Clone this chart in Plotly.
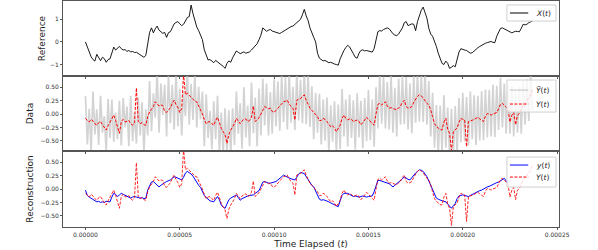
import plotly.graph_objects as go
from plotly.subplots import make_subplots

# ---------------- data: all series sampled every 1 microsecond, starting at t = 0 ----------------
DT_US = 1.0

# reference signal X(t)
X_V = [0.00, -0.22, -0.42, -0.66, -0.78, -0.85, -0.55, -0.72, -0.83, -0.68, -0.74, -0.9, -0.78, -0.75, -0.45,
       -0.23, -0.36, -0.3, -0.2, -0.3, -0.36, -0.34, -0.42, -0.38, -0.44, -0.42, -0.47, -0.46, -0.52, -0.58,
       -0.62, -0.68, -0.6, -0.1, 0.42, 0.62, 0.4, 0.58, 0.7, 0.52, 0.46, 0.38, 0.42, 0.2, 0.41, 0.45, 0.62,
       0.8, 0.86, 0.9, 0.8, 0.72, 0.78, 0.92, 1.08, 1.12, 1.63, 1.25, 0.9, 0.66, 0.5, 0.3, 0.1, -0.35, -0.6,
       -0.8, -0.78, -0.86, -0.92, -0.82, -0.88, -0.94, -1.02, -1.08, -1.17, -0.95, -0.84, -0.9, -0.7, -0.52,
       -0.4, -0.46, -0.52, -0.48, -0.44, -0.5, -0.47, -0.44, -0.36, -0.25, -0.15, -0.08, 0.1, 0.3, 0.62, 0.56,
       0.47, 0.52, 0.55, 0.48, 0.46, 0.44, 0.42, 0.37, 0.42, 0.48, 0.52, 0.58, 0.62, 0.68, 0.7, 0.78, 0.86,
       0.9, 1.0, 1.2, 1.44, 1.15, 0.95, 0.62, 0.36, 0.2, 0.0, -0.5, -0.72, -0.78, -0.84, -0.82, -0.88, -0.92,
       -0.9, -0.95, -0.98, -1.0, -1.03, -0.75, -0.52, -0.38, -0.25, -0.15, -0.22, -0.4, -0.52, -0.68, -0.72,
       -0.5, -0.38, -0.35, -0.4, -0.38, -0.4, -0.42, -0.45, -0.3, 0.1, 0.45, 0.5, 0.48, 0.55, 0.6, 0.62, 0.58,
       0.45, 0.36, 0.3, 0.28, 0.35, 0.48, 0.62, 0.85, 0.9, 0.72, 0.75, 0.8, 0.78, 0.5, 0.9, 1.2, 1.4, 1.54,
       1.3, 1.05, 0.6, 0.35, 0.25, 0.05, -0.2, -0.5, -0.74, -0.95, -1.0, -0.85, -0.95, -1.17, -1.12, -1.05,
       -1.1, -0.7, -0.45, -0.3, -0.34, -0.36, -0.38, -0.44, -0.5, -0.48, -0.4, -0.3, -0.26, -0.2, -0.14, -0.1,
       -0.06, -0.03, 0.0, 0.02, -0.02, -0.03, 0.25, 0.45, 0.6, 0.62, 0.58, 0.55, 0.5, 0.45, 0.4, 0.44, 0.47,
       0.46, 0.45, 0.6, 0.78, 0.75, 0.78, 0.85, 0.88, 0.93]

# noisy data Y~(t)
YN_V = [0.34, -0.57, 0.10, -0.70, 0.42, -0.38, 0.09, -0.58, 0.34, -0.35, -0.04, -0.70, 0.28, -0.45, 0.27,
        -0.52, 0.03, -0.47, 0.25, -0.59, 0.30, -0.25, 0.14, -0.60, 0.34, -0.51, 0.02, -0.55, 0.31, -0.40,
        0.22, -0.72, 0.09, -0.40, 0.62, -0.32, 0.39, -0.07, 0.78, -0.35, 0.57, -0.02, 0.55, -0.42, 0.73,
        -0.17, 0.55, -0.29, 0.76, -0.23, 0.48, -0.40, 0.42, -0.04, 0.84, -0.20, 0.56, -0.11, 0.74, -0.25,
        0.51, -0.10, 0.42, -0.60, 0.37, -0.45, 0.06, -0.66, 0.24, -0.47, 0.34, -0.71, 0.03, -0.75, 0.11,
        -0.75, 0.07, -0.75, 0.11, -0.58, 0.42, -0.37, 0.20, -0.65, 0.50, -0.44, 0.16, -0.60, 0.59, -0.36,
        0.31, -0.60, 0.48, -0.40, 0.66, -0.21, 0.57, -0.40, 0.41, -0.37, 0.65, -0.23, 0.61, -0.31, 0.73,
        -0.15, 0.69, -0.29, 0.78, -0.16, 0.51, -0.30, 0.76, -0.12, 0.64, -0.17, 0.81, -0.19, 0.73, -0.24,
        0.52, -0.47, 0.40, -0.35, 0.38, -0.57, 0.27, -0.50, 0.31, -0.70, 0.16, -0.52, 0.24, -0.71, 0.18,
        -0.66, 0.47, -0.42, 0.27, -0.61, 0.36, -0.45, 0.26, -0.67, 0.39, -0.44, 0.25, -0.64, 0.30, -0.51,
        0.45, -0.49, 0.27, -0.61, 0.50, -0.27, 0.75, -0.18, 0.70, -0.27, 0.60, -0.29, 0.72, -0.35, 0.49,
        -0.42, 0.66, -0.20, 0.72, -0.19, 0.69, -0.29, 0.57, -0.36, 0.72, -0.16, 0.78, -0.14, 0.74, -0.15,
        0.79, -0.20, 0.62, -0.42, 0.40, -0.63, 0.17, -0.77, 0.16, -0.70, 0.35, -0.63, 0.12, -0.76, 0.10,
        -0.78, 0.15, -0.76, 0.30, -0.53, 0.40, -0.51, 0.32, -0.59, 0.42, -0.47, 0.35, -0.58, 0.34, -0.49,
        0.43, -0.49, 0.46, -0.44, 0.45, -0.42, 0.55, -0.43, 0.53, -0.30, 0.68, -0.25, 0.57, -0.37, 0.53,
        -0.37, 0.52, -0.42, 0.42, -0.35, 0.51, -0.37, 0.62, -0.20, 0.65, -0.13, 0.76, 0.06]

# observation Y(t)
Y_V = [-0.08, -0.12, -0.15, -0.1, -0.13, -0.18, -0.21, -0.16, -0.14, -0.2, -0.24, -0.3, -0.22, -0.15, -0.08,
       -0.02, -0.12, -0.22, -0.36, -0.14, -0.1, -0.15, -0.14, -0.12, -0.18, -0.21, -0.16, 0.49, -0.14, -0.18,
       -0.16, -0.2, -0.21, -0.05, 0.04, 0.1, 0.14, 0.23, 0.18, 0.15, 0.17, 0.16, 0.05, 0.03, 0.08, 0.11, 0.2,
       0.26, 0.18, 0.12, 0.03, 0.1, 0.75, 0.36, 0.39, 0.35, 0.31, 0.27, 0.24, 0.23, 0.16, 0.1, 0.0, -0.1,
       -0.18, -0.15, -0.14, -0.18, -0.21, -0.12, -0.06, -0.16, -0.27, -0.33, -0.39, -0.55, -0.38, -0.3,
       -0.24, -0.18, -0.08, -0.12, -0.18, -0.13, -0.1, -0.09, -0.14, -0.12, -0.06, 0.15, -0.14, -0.1, -0.07,
       0.0, 0.06, 0.14, 0.12, 0.1, 0.11, 0.05, 0.03, 0.07, 0.11, 0.14, 0.18, 0.23, 0.24, 0.26, 0.18, 0.14,
       0.11, -0.11, 0.26, 0.28, 0.29, 0.33, 0.36, 0.26, 0.18, 0.11, 0.07, 0.03, 0.0, -0.05, -0.12, -0.12,
       -0.08, -0.1, -0.14, -0.2, -0.24, -0.22, -0.26, -0.33, -0.27, -0.21, -0.08, -0.02, -0.08, -0.11, -0.09,
       -0.1, -0.14, -0.12, -0.11, -0.14, -0.2, -0.16, -0.1, -0.06, -0.1, -0.14, -0.18, -0.21, 0.0, 0.18, 0.2,
       0.17, 0.2, 0.23, 0.15, 0.11, 0.12, 0.1, 0.09, 0.08, 0.11, 0.15, 0.22, 0.26, 0.14, 0.11, 0.12, 0.14,
       0.22, 0.29, 0.33, 0.36, 0.34, 0.3, 0.24, 0.2, 0.17, 0.08, -0.05, -0.18, -0.23, -0.27, -0.29, -0.3,
       -0.15, -0.08, -0.28, -0.36, -0.68, -0.33, -0.3, -0.26, -0.15, -0.08, -0.1, -0.11, -0.61, -0.14, -0.13,
       -0.12, -0.1, -0.08, -0.06, -0.09, -0.12, -0.14, -0.04, 0.01, 0.0, -0.02, 0.0, 0.02, 0.03, 0.1, 0.18,
       0.2, 0.17, 0.13, 0.08, -0.15, -0.02, 0.03, -0.2, -0.02, 0.01, 0.08, 0.17, 0.2, 0.25, 0.32, 0.36, 0.46]

# reconstruction y(t)
R_V = [-0.02, -0.12, -0.15, -0.17, -0.2, -0.22, -0.24, -0.23, -0.25, -0.24, -0.25, -0.23, -0.24, -0.24, -0.15,
       -0.08, -0.1, -0.14, -0.11, -0.08, -0.1, -0.12, -0.14, -0.16, -0.17, -0.15, -0.14, -0.15, -0.16, -0.17,
       -0.16, -0.18, -0.17, -0.02, 0.06, 0.13, 0.14, 0.11, 0.07, 0.04, 0.07, 0.1, 0.12, 0.14, 0.15, 0.17, 0.2,
       0.23, 0.22, 0.2, 0.18, 0.17, 0.22, 0.3, 0.33, 0.31, 0.28, 0.24, 0.18, 0.12, 0.07, 0.03, -0.05, -0.12,
       -0.16, -0.2, -0.22, -0.23, -0.24, -0.19, -0.14, -0.2, -0.3, -0.34, -0.36, -0.28, -0.2, -0.17, -0.15,
       -0.13, -0.11, -0.16, -0.21, -0.18, -0.16, -0.14, -0.13, -0.12, -0.12, -0.11, -0.08, -0.05, -0.03, 0.05,
       0.13, 0.14, 0.12, 0.11, 0.11, 0.12, 0.13, 0.14, 0.17, 0.2, 0.23, 0.26, 0.24, 0.22, 0.2, 0.19, 0.18,
       0.17, 0.22, 0.28, 0.31, 0.3, 0.29, 0.23, 0.17, 0.12, 0.07, 0.04, -0.04, -0.12, -0.19, -0.21, -0.2,
       -0.21, -0.22, -0.24, -0.26, -0.28, -0.3, -0.31, -0.33, -0.22, -0.12, -0.08, -0.08, -0.08, -0.1, -0.12,
       -0.14, -0.13, -0.14, -0.15, -0.14, -0.13, -0.14, -0.15, -0.14, -0.14, -0.13, -0.05, 0.08, 0.16, 0.16,
       0.15, 0.14, 0.12, 0.11, 0.1, 0.07, 0.04, 0.07, 0.1, 0.13, 0.15, 0.19, 0.23, 0.2, 0.18, 0.17, 0.22,
       0.27, 0.3, 0.33, 0.36, 0.35, 0.33, 0.28, 0.23, 0.15, 0.07, -0.03, -0.12, -0.17, -0.19, -0.21, -0.22,
       -0.23, -0.24, -0.28, -0.33, -0.36, -0.31, -0.27, -0.18, -0.13, -0.12, -0.11, -0.12, -0.13, -0.14,
       -0.12, -0.1, -0.08, -0.07, -0.05, -0.03, -0.02, 0.0, 0.03, 0.04, 0.05, 0.07, 0.08, 0.1, 0.12, 0.13,
       0.15, 0.17, 0.2, 0.15, 0.11]

X_TICKS = [0.0, 0.00005, 0.00010, 0.00015, 0.00020, 0.00025]
Y1_TICKS = [-1, 0, 1]
Y23_TICKS = [-0.5, -0.25, 0.0, 0.25, 0.5]

US = 1e-6


def times(vals):
    return [i * DT_US * US for i in range(len(vals))]


# ---------------- figure ----------------
fig = make_subplots(rows=3, cols=1, shared_xaxes=True, vertical_spacing=0)

RED = dict(color="red", width=1, dash="3px,1.5px")
GRAY = "rgba(192,192,192,0.7)"
fig.add_trace(go.Scatter(x=times(X_V), y=X_V, mode="lines", name="X(t)",
                         line=dict(color="black", width=0.9)), row=1, col=1)
fig.add_trace(go.Scatter(x=times(YN_V), y=YN_V, mode="lines", name="Ỹ(t)",
                         line=dict(color=GRAY, width=1.7)), row=2, col=1)
fig.add_trace(go.Scatter(x=times(Y_V), y=Y_V, mode="lines", name="Y(t)", line=RED), row=2, col=1)
fig.add_trace(go.Scatter(x=times(R_V), y=R_V, mode="lines", name="y(t)",
                         line=dict(color="blue", width=1)), row=3, col=1)
fig.add_trace(go.Scatter(x=times(Y_V), y=Y_V, mode="lines", name="Y(t)", line=RED, opacity=0.85),
              row=3, col=1)

AX = dict(showline=True, linecolor="#555", linewidth=1, mirror=True, showgrid=False, zeroline=False,
          ticks="outside", ticklen=2, tickcolor="#555", tickfont=dict(size=6, color="#333"))

rng = [-0.0000119, 0.000251]
for i in (1, 2, 3):
    fig.update_xaxes(AX, range=rng, tickvals=X_TICKS, tickformat=".5f", row=i, col=1)
fig.update_xaxes(showticklabels=False, row=1, col=1)
fig.update_xaxes(showticklabels=False, row=2, col=1)
fig.update_xaxes(title=dict(text="Time Elapsed (<i>t</i>)", font=dict(size=9, color="#222"), standoff=3),
                 row=3, col=1)

fig.update_yaxes(AX, range=[-1.51, 1.81], tickvals=Y1_TICKS, tickformat="d",
                 title=dict(text="Reference", font=dict(size=9, color="#222"), standoff=2), row=1, col=1)
fig.update_yaxes(AX, range=[-0.693, 0.712], tickvals=Y23_TICKS, tickformat=".2f",
                 title=dict(text="Data", font=dict(size=9, color="#222"), standoff=5), row=2, col=1)
fig.update_yaxes(AX, range=[-0.71, 0.71], tickvals=Y23_TICKS, tickformat=".2f",
                 title=dict(text="Reconstruction", font=dict(size=9, color="#222"), standoff=5), row=3, col=1)

fig.update_layout(yaxis=dict(domain=[0.668, 1.0]), yaxis2=dict(domain=[0.336, 0.668]),
                  yaxis3=dict(domain=[0.0, 0.336]))

# ---------------- legends (one box per panel, drawn in axis-domain coordinates) ----------------
LEGENDS = [
    ("y", (0.947, 0.733), [("<i>X</i>(<i>t</i>)", dict(color="black", width=1), 0.84)]),
    ("y2", (0.947, 0.52), [("<i>Ỹ</i>(<i>t</i>)", dict(color="rgba(185,185,185,0.9)", width=1), 0.813),
                           ("<i>Y</i>(<i>t</i>)", dict(color="red", width=1, dash="3px,1.5px"), 0.627)]),
    ("y3", (0.921, 0.526), [("<i>y</i>(<i>t</i>)", dict(color="blue", width=1), 0.816),
                            ("<i>Y</i>(<i>t</i>)", dict(color="red", width=1, dash="3px,1.5px"), 0.658)]),
]
xref = "x domain"
shapes, annots = [], []
for yax, (ytop, ybot), items in LEGENDS:
    yref = f"{yax} domain"
    shapes.append(dict(type="rect", xref=xref, yref=yref, x0=0.895, x1=0.994, y0=ybot, y1=ytop,
                       fillcolor="rgba(255,255,255,0.8)", line=dict(color="#d0d0d0", width=1), layer="above"))
    for label, ln, yy in items:
        shapes.append(dict(type="line", xref=xref, yref=yref, x0=0.901, x1=0.938, y0=yy, y1=yy,
                           line=ln, layer="above"))
        annots.append(dict(xref=xref, yref=yref, x=0.950, y=yy, text=label, showarrow=False,
                           xanchor="left", yanchor="middle", font=dict(size=7.5, color="#222")))

fig.update_layout(
    width=598, height=250,
    margin=dict(l=63, r=39, t=1, b=23),
    paper_bgcolor="white", plot_bgcolor="white",
    font=dict(family="DejaVu Sans"),
    showlegend=False,
    shapes=shapes, annotations=annots,
)

fig.write_html("out.html", config={"displayModeBar": False},
               post_script="document.body.style.margin='0px';")
